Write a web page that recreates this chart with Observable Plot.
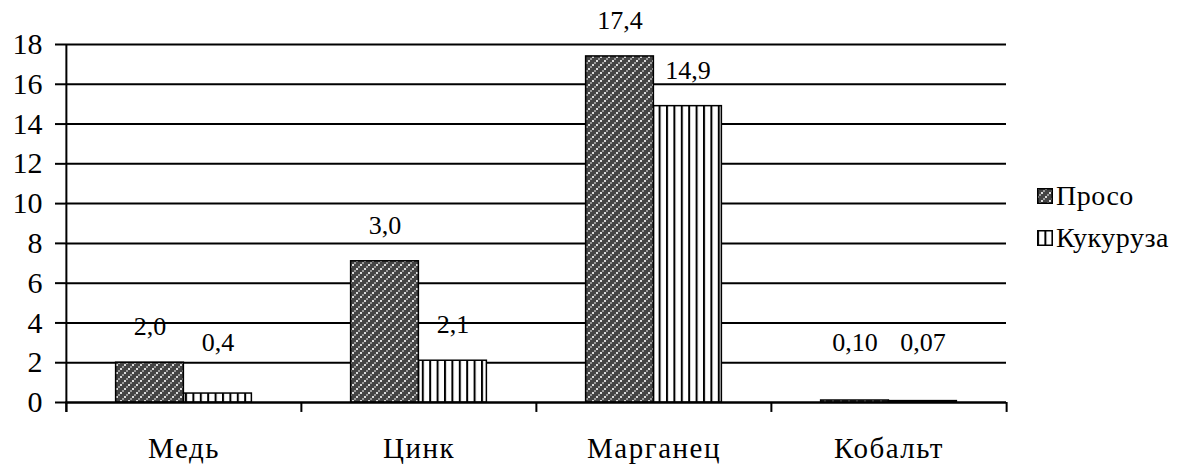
<!DOCTYPE html>
<html><head><meta charset="utf-8">
<script src="https://cdn.jsdelivr.net/npm/d3@7"></script>
<script src="https://cdn.jsdelivr.net/npm/@observablehq/plot@0.6"></script>
<style>
html, body, body *{font-family:'Liberation Serif', 'Times New Roman', serif !important;}
body{margin:0;background:#fff;}
#wrap{position:relative;width:1194px;height:464px;}
#legend{position:absolute;left:1037px;top:175px;font-size:28px;letter-spacing:0.5px;color:#000;}
.row{display:flex;align-items:center;height:42px;}
.row svg{margin-right:3px;display:block}
</style></head><body>
<svg width="0" height="0" style="position:absolute">
  <defs>
    <pattern id="cross" patternUnits="userSpaceOnUse" width="8" height="8">
      <rect width="8" height="8" fill="#444"/>
      <rect x="0" y="0" width="2" height="2" fill="#ddd"/>
      <rect x="4" y="4" width="2" height="2" fill="#ddd"/>
      <rect x="2" y="6" width="2" height="2" fill="#999"/>
      <rect x="6" y="2" width="2" height="2" fill="#999"/>
    </pattern>
    <pattern id="vstripe" patternUnits="userSpaceOnUse" width="7.4" height="8">
      <rect width="7.4" height="8" fill="#fff"/>
      <rect x="0" y="0" width="2" height="8" fill="#000"/>
    </pattern>
  </defs>
</svg>
<div id="wrap"><div id="legend"></div></div>
<script>
const categories = ["Медь", "Цинк", "Марганец", "Кобальт"];
const seriesNames = ["Просо", "Кукуруза"];
const prosoValues = [2.0, 7.1, 17.4, 0.10];
const kukuruzaValues = [0.45, 2.1, 14.9, 0.07];
const prosoLabels = ["2,0", "3,0", "17,4", "0,10"];
const kukuruzaLabels = ["0,4", "2,1", "14,9", "0,07"];
const yTicks = [0, 2, 4, 6, 8, 10, 12, 14, 16, 18];

const W = 1194, H = 464, ML = 65, MR = 188, MT = 44, MB = 62;
const bw = (W - ML - MR) / categories.length;
const barW = 68;
const FONT = "'Liberation Serif', 'Times New Roman', serif";

const proso = categories.map((c, i) => ({cat: c, value: prosoValues[i], label: prosoLabels[i]}));
const kuk = categories.map((c, i) => ({cat: c, value: kukuruzaValues[i], label: kukuruzaLabels[i]}));
const labelY = d => Math.max(d.value + 1.8, 3);

const chart = Plot.plot({
  width: W, height: H,
  marginLeft: ML, marginRight: MR, marginTop: MT, marginBottom: MB,
  style: {fontSize: "28px", color: "#000", background: "#fff", overflow: "visible"},
  x: {type: "band", domain: categories, padding: 0, axis: null},
  y: {domain: [0, 18], axis: null},
  marks: [
    Plot.gridY(yTicks, {stroke: "#000", strokeOpacity: 1, strokeWidth: 2}),
    Plot.axisY(yTicks, {tickSize: 10, tickPadding: 13, strokeWidth: 2, fontSize: 30, label: null}),
    Plot.barY(proso, {x: "cat", y: "value", fill: "url(#cross)", stroke: "#000", strokeWidth: 1.5,
      insetLeft: bw / 2 - barW, insetRight: bw / 2}),
    Plot.barY(kuk, {x: "cat", y: "value", fill: "url(#vstripe)", stroke: "#000", strokeWidth: 1.5,
      insetLeft: bw / 2, insetRight: bw / 2 - barW}),
    Plot.text(proso, {x: "cat", y: labelY, text: "label", dx: -barW / 2, fontSize: 26, fill: "#000"}),
    Plot.text(kuk, {x: "cat", y: labelY, text: "label", dx: barW / 2, fontSize: 26, fill: "#000"}),
    Plot.ruleY([0], {stroke: "#000", strokeWidth: 2}),
    Plot.ruleX([categories[0]], {x: d => d, dx: -bw / 2, y1: -0.5, y2: 18, stroke: "#000", strokeWidth: 2}),
    Plot.ruleX(categories, {x: d => d, dx: -bw / 2, y1: -0.5, y2: 0, stroke: "#000", strokeWidth: 2}),
    Plot.ruleX([categories[categories.length - 1]], {x: d => d, dx: bw / 2, y1: -0.5, y2: 0, stroke: "#000", strokeWidth: 2}),
    Plot.axisX(categories, {tickSize: 0, tickPadding: 35, fontSize: 29, label: null})
  ]
});
document.getElementById("wrap").prepend(chart);

const legend = document.getElementById("legend");
const fills = {"Просо": "url(#cross)", "Кукуруза": "url(#vstripe)"};
seriesNames.forEach(s => {
  const row = document.createElement("div");
  row.className = "row";
  row.innerHTML = `<svg width="16" height="16"><rect x="0.75" y="0.75" width="14.5" height="14.5" fill="${fills[s]}" stroke="#000" stroke-width="1.5"/></svg><span>${s}</span>`;
  legend.appendChild(row);
});

function applyFonts() {
  document.querySelectorAll("#wrap, #wrap *").forEach(el => {
    if (el.hasAttribute("font-family")) el.setAttribute("font-family", FONT);
    el.style.setProperty("font-family", FONT, "important");
  });
  chart.querySelectorAll("[aria-label='x-axis tick label'] text").forEach(el => { el.style.letterSpacing = "1.5px"; });
}
applyFonts();
requestAnimationFrame(applyFonts);
setTimeout(applyFonts, 50);
window.addEventListener("load", () => { applyFonts(); setTimeout(applyFonts, 100); });
</script>
</body></html>
